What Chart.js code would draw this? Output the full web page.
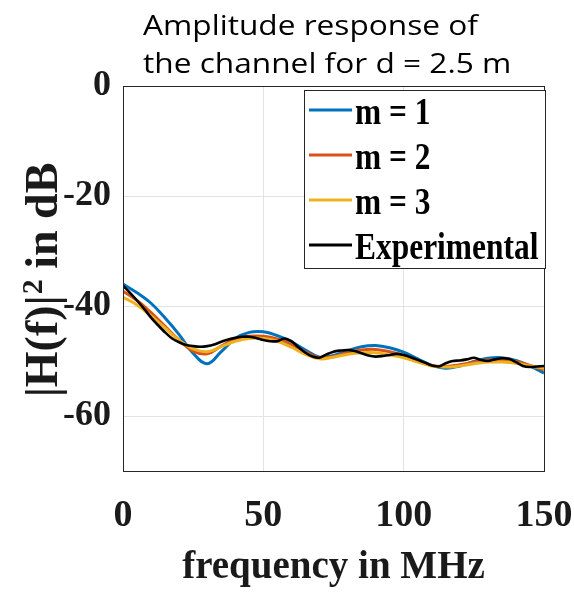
<!DOCTYPE html>
<html><head><meta charset="utf-8">
<script src="https://cdn.jsdelivr.net/npm/chart.js@4.4.0/dist/chart.umd.min.js"></script>
<style>html,body{margin:0;padding:0;background:#fff;}</style>
</head><body>
<canvas id="c" width="574" height="595"></canvas>
<script>
const titleLines = ["Amplitude response of", "the channel for d = 2.5 m"];
const xTitle = "frequency in MHz";
const yTitleMain = "|H(f)|";
const yTitleSup = "2";
const yTitleRest = " in dB";
const xTicks = [0, 50, 100, 150];
const yTicks = [-60, -40, -20, 0];
const seriesLabels = ["m = 1", "m = 2", "m = 3", "Experimental"];

const freqModel = [0,5,10,15,20,25,30,35,40,45,50,55,60,65,70,75,80,85,90,95,100,105,110,115,120,125,130,135,140,145,150];
const m1 = [-36.0,-37.6,-39.5,-42.2,-45.2,-48.6,-50.5,-48.3,-45.9,-44.8,-44.7,-45.4,-46.5,-48.0,-49.3,-49.0,-48.1,-47.4,-47.2,-47.6,-48.4,-49.6,-50.8,-51.3,-50.9,-50.1,-49.5,-49.4,-49.9,-50.9,-52.2];
const m2 = [-37.3,-39.0,-41.2,-43.7,-46.2,-48.2,-48.7,-47.3,-46.0,-45.5,-45.5,-46.0,-47.0,-48.4,-49.4,-49.2,-48.5,-48.0,-47.9,-48.3,-49.0,-50.0,-50.8,-51.0,-50.7,-50.2,-49.8,-49.8,-50.1,-50.8,-51.6];
const m3 = [-38.4,-39.8,-41.8,-44.0,-46.2,-47.8,-48.3,-47.4,-46.4,-45.9,-45.9,-46.4,-47.5,-48.8,-49.6,-49.3,-48.8,-48.5,-48.5,-48.9,-49.4,-50.2,-50.9,-51.1,-50.9,-50.5,-50.2,-50.2,-50.4,-50.9,-51.3];

const freqExp = [0,2.5,5,7.5,10,12.5,15,17.5,20,22.5,25,27.5,30,32.5,35,37.5,40,42.5,45,47.5,50,52.5,55,57.5,60,62.5,65,67.5,70,72.5,75,77.5,80,82.5,85,87.5,90,92.5,95,97.5,100,102.5,105,107.5,110,112.5,115,117.5,120,122.5,125,127.5,130,132.5,135,137.5,140,142.5,145,147.5,150];
const experimental = [-36.3,-37.6,-39.0,-40.5,-42.1,-43.5,-44.8,-45.9,-46.6,-47.1,-47.3,-47.4,-47.3,-47.0,-46.5,-46.1,-45.8,-45.6,-45.6,-45.8,-46.2,-46.4,-46.4,-45.9,-46.4,-47.5,-48.5,-49.2,-49.4,-48.8,-48.3,-48.1,-48.0,-48.2,-48.6,-49.0,-49.2,-49.1,-48.9,-48.7,-48.9,-49.3,-49.8,-50.3,-50.8,-51.0,-50.4,-50.0,-49.9,-49.7,-49.4,-49.8,-50.0,-49.7,-49.5,-49.6,-50.2,-50.9,-51.1,-51.0,-50.9];

const colors = ["#0072BD", "#D95319", "#EDB120", "#000000"];
const axisColor = "#262626";
const serif = "'Liberation Serif', 'Times New Roman', serif";

function pts(xs, ys) { return xs.map((x, i) => ({ x: x, y: ys[i] })); }

const decorPlugin = {
  id: 'decor',
  afterDraw(chart) {
    const ctx = chart.ctx;
    const a = chart.chartArea;
    ctx.save();
    // box
    ctx.strokeStyle = axisColor;
    ctx.lineWidth = 1;
    ctx.strokeRect(Math.round(a.left) + 0.5, Math.round(a.top) + 0.5, Math.round(a.right - a.left), Math.round(a.bottom - a.top));

    // legend
    const lx = 304.5, ly = 90.5, lw = 241, lh = 178;
    ctx.fillStyle = "#fff";
    ctx.fillRect(lx, ly, lw, lh);
    ctx.strokeStyle = axisColor;
    ctx.strokeRect(lx, ly, lw, lh);
    const rowY = [110, 155, 200, 245];
    chart.data.datasets.forEach((ds, i) => {
      ctx.strokeStyle = ds.borderColor;
      ctx.lineWidth = 3;
      ctx.beginPath();
      ctx.moveTo(309, rowY[i]);
      ctx.lineTo(352, rowY[i]);
      ctx.stroke();
      ctx.save();
      ctx.translate(355, rowY[i] + 13.5);
      ctx.scale(0.85, 1);
      ctx.fillStyle = "#000";
      ctx.font = "bold 37px " + serif;
      ctx.textBaseline = "alphabetic";
      ctx.textAlign = "left";
      ctx.fillText(ds.label, 0, 0);
      ctx.restore();
    });

    // title
    ctx.save();
    ctx.fillStyle = "#000";
    ctx.font = "28px 'Open Sans', 'Noto Sans', sans-serif";
    ctx.textAlign = "left";
    ctx.textBaseline = "alphabetic";
    ctx.translate(143, 0);
    ctx.scale(1.13, 1);
    ctx.fillText(titleLines[0], 0, 35);
    ctx.fillText(titleLines[1], 0, 73);
    ctx.restore();

    // x title
    ctx.fillStyle = "#1a1a1a";
    ctx.font = "bold 39px " + serif;
    ctx.textAlign = "center";
    ctx.textBaseline = "alphabetic";
    ctx.fillText(xTitle, (a.left + a.right) / 2, 578);

    // y title with superscript
    const fMain = "bold 46px " + serif, fSup = "bold 30px " + serif;
    ctx.font = fMain; const w1 = ctx.measureText(yTitleMain).width; const w3 = ctx.measureText(yTitleRest).width;
    ctx.font = fSup; const w2 = ctx.measureText(yTitleSup).width;
    const total = w1 + w2 + w3;
    ctx.translate(57, 280);
    ctx.rotate(-Math.PI / 2);
    ctx.textAlign = "left";
    let x0 = -total / 2;
    ctx.font = fMain; ctx.fillText(yTitleMain, x0, 0);
    ctx.font = fSup; ctx.fillText(yTitleSup, x0 + w1 + 1, -15);
    ctx.font = fMain; ctx.fillText(yTitleRest, x0 + w1 + w2, 0);
    ctx.restore();
  }
};

new Chart(document.getElementById('c'), {
  type: 'line',
  data: {
    datasets: [
      { label: seriesLabels[0], data: pts(freqModel, m1), borderColor: colors[0], borderWidth: 3, order: 3 },
      { label: seriesLabels[1], data: pts(freqModel, m2), borderColor: colors[1], borderWidth: 3, order: 2 },
      { label: seriesLabels[2], data: pts(freqModel, m3), borderColor: colors[2], borderWidth: 3, order: 1 },
      { label: seriesLabels[3], data: pts(freqExp, experimental), borderColor: colors[3], borderWidth: 2.6, order: 0, tension: 0.3 }
    ]
  },
  options: {
    responsive: false,
    animation: false,
    devicePixelRatio: 1,
    elements: { point: { radius: 0 }, line: { tension: 0.4, fill: false } },
    layout: { padding: { top: 86, right: 30, left: 0, bottom: 0 } },
    plugins: { legend: { display: false }, title: { display: false }, tooltip: { enabled: false } },
    scales: {
      x: {
        type: 'linear', min: 0, max: 150,
        afterBuildTicks: s => { s.ticks = xTicks.map(v => ({ value: v })); },
        afterFit: s => { s.height = 124; s.paddingLeft = 0; s.paddingRight = 0; },
        ticks: { font: { family: serif, size: 38, weight: 'bold' }, color: '#1a1a1a', padding: 22, maxRotation: 0, autoSkip: false },
        grid: { color: '#e3e3e3', lineWidth: 1, drawTicks: false },
        border: { display: false }
      },
      y: {
        type: 'linear', min: -70, max: 0,
        afterBuildTicks: s => { s.ticks = yTicks.map(v => ({ value: v })); },
        afterFit: s => { s.width = 123; s.paddingTop = 0; s.paddingBottom = 0; },
        ticks: { font: { family: serif, size: 36, weight: 'bold' }, color: '#1a1a1a', padding: 12, autoSkip: false },
        grid: { color: '#e3e3e3', lineWidth: 1, drawTicks: false },
        border: { display: false }
      }
    }
  },
  plugins: [decorPlugin]
});
</script>
</body></html>
